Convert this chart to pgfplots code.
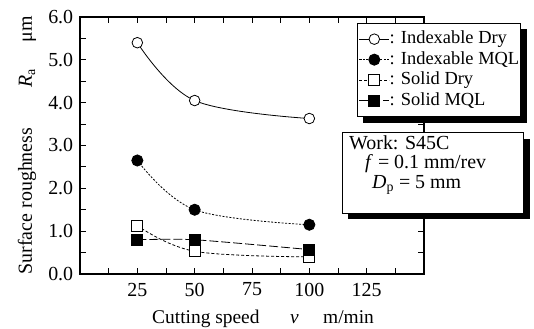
\documentclass[border=0pt]{standalone}
\usepackage{fontspec}
\setmainfont{Liberation Serif}
\usepackage{pgfplots}
\pgfplotsset{compat=1.18}
\begin{document}
\fontsize{20}{21}\selectfont
\begin{tikzpicture}
\begin{axis}[
  scale only axis, width=344bp, height=257bp,
  xmin=0, xmax=150, ymin=0, ymax=6,
  xtick={25,50,75,100,125},
  minor xtick={12.5,37.5,62.5,87.5,112.5,137.5},
  ytick={0,1,...,6},
  minor ytick={0.5,1.5,...,5.5},
  tick align=inside,
  major tick length=6bp, minor tick length=6bp,
  axis line style={line width=2.2bp},
  every tick/.style={black, line width=0.9bp},
  yticklabel style={/pgf/number format/.cd,fixed,fixed zerofill,precision=1},
  /pgf/number format/assume math mode=true,
  tick label style={font=\fontsize{20}{21}\selectfont},
  xticklabel style={yshift=-2bp},
  legend style={name=leg, at={(0.805,0.977)}, anchor=north west, draw=black, line width=1bp,
    fill=white, inner xsep=1.5bp, inner ysep=5.5bp, row sep=0bp,
    nodes={inner xsep=0bp, inner ysep=0.5bp, text height=14.5bp, text depth=5bp},
    /tikz/every even column/.style={column sep=0bp},
    font=\fontsize{18.5}{20}\selectfont},
  legend cell align=left,
  legend image code/.code={\draw[mark repeat=2,mark phase=2,#1] plot coordinates {(0bp,0bp) (15bp,0bp) (30bp,0bp)};},
  clip=false,
]
\addplot[black, line width=0.8bp, smooth, tension=0.6, mark=*, mark size=5.3bp, mark options={solid, fill=white, line width=0.8bp}]
  coordinates {(25,5.4) (50,4.05) (100,3.63)};
\addlegendentry{: Indexable Dry}
\addplot[black, line width=0.8bp, smooth, tension=0.6, dash pattern=on 2bp off 1.5bp, mark=*, mark size=5.6bp, mark options={solid, fill=black}]
  coordinates {(25,2.65) (50,1.5) (100,1.15)};
\addlegendentry{: Indexable MQL}
\addplot[black, line width=0.8bp, smooth, tension=0.6, dash pattern=on 3bp off 2bp, mark=square*, mark size=5.5bp, mark options={solid, fill=white, line width=0.8bp}]
  coordinates {(25,1.13) (50,0.53) (100,0.4)};
\addlegendentry{: Solid Dry}
\addplot[black, line width=0.8bp, smooth, tension=0.4, dash pattern=on 9bp off 3bp, mark=square*, mark size=5.5bp, mark options={solid, fill=black}]
  coordinates {(25,0.8) (50,0.8) (100,0.57)};
\addlegendentry{: Solid MQL}
\end{axis}
% legend shadow
\fill[black] ([shift={(0bp,-6bp)}]leg.north east) rectangle ([shift={(6bp,-6bp)}]leg.south east);
\fill[black] ([shift={(6bp,0bp)}]leg.south west) rectangle ([shift={(6bp,-6bp)}]leg.south east);
% work box
\fill[black] (443bp,135bp) rectangle (450bp,55bp);
\fill[black] (268bp,60bp) rectangle (450bp,55bp);
\draw[line width=1bp, fill=white] (262bp,141bp) rectangle (443bp,60bp);
\node[anchor=north west, align=left, inner sep=0pt, font=\fontsize{20}{20}\selectfont] at (269bp,139bp)
  {Work: S45C\\ \hspace*{16bp}\textit{f} = 0.1 mm/rev\\ \hspace*{23bp}\textit{D}\textsubscript{p} = 5 mm};
% axis labels
\node[anchor=base west, inner sep=0pt, font=\fontsize{19.5}{20}\selectfont] at (72bp,-49bp) {Cutting speed};
\node[anchor=base west, inner sep=0pt, font=\fontsize{19.5}{20}\selectfont] at (210bp,-49bp) {\textit{v}};
\node[anchor=base west, inner sep=0pt, font=\fontsize{19.5}{20}\selectfont] at (243bp,-49bp) {m/min};
\node[anchor=base, rotate=90, inner sep=0pt] at (-48bp,73bp) {Surface roughness};
\node[anchor=base, rotate=90, inner sep=0pt] at (-48bp,196bp) {\textit{R}\textsubscript{a}};
\node[anchor=base, rotate=90, inner sep=0pt] at (-48bp,245bp) {μm};
\pgfresetboundingbox
\useasboundingbox (-80bp,-55bp) rectangle (454bp,274bp);
\end{tikzpicture}
\end{document}
